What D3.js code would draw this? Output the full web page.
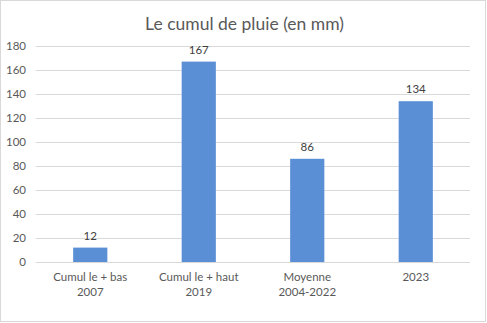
<!DOCTYPE html>
<html>
<head>
<meta charset="utf-8">
<script src="https://cdn.jsdelivr.net/npm/d3@7"></script>
<style>
  html, body { margin: 0; padding: 0; background: #fff; }
  svg { display: block; }
</style>
</head>
<body>
<svg id="chart" width="487" height="323"></svg>
<script>
// Rainfall totals (mm)
const categories = [
  ["Cumul le + bas", "2007"],
  ["Cumul le + haut", "2019"],
  ["Moyenne", "2004-2022"],
  ["2023"]
];
const values = [12, 167, 86, 134];
const yTicks = [0, 20, 40, 60, 80, 100, 120, 140, 160, 180];
const title = "Le cumul de pluie (en mm)";

const W = 487, H = 323;
const margin = { left: 36, right: 17, top: 46, bottom: 61 };
const font = "Lato, 'Open Sans', sans-serif";
const textColor = "#595959";
const gridColor = "#d9d9d9";
const barColor = "#5a8fd6";

const svg = d3.select("#chart");

// Chart frame
svg.append("rect")
  .attr("x", 0.5).attr("y", 0.5)
  .attr("width", W - 2).attr("height", H - 2)
  .attr("fill", "#fff").attr("stroke", gridColor);

const x = d3.scaleBand()
  .domain(d3.range(categories.length))
  .range([margin.left, W - margin.right])
  .padding(0);

const y = d3.scaleLinear()
  .domain([0, 180])
  .range([H - margin.bottom, margin.top]);

// Title
svg.append("text")
  .attr("x", W / 2 + 1).attr("y", 30)
  .attr("text-anchor", "middle")
  .attr("font-family", font)
  .attr("font-size", 17.5)
  .attr("fill", textColor)
  .text(title);

// Gridlines
svg.append("g").selectAll("line")
  .data(yTicks.filter(t => t > 0))
  .join("line")
  .attr("x1", margin.left).attr("x2", W - margin.right)
  .attr("y1", d => Math.round(y(d)) + 0.5).attr("y2", d => Math.round(y(d)) + 0.5)
  .attr("stroke", gridColor);

// Y axis labels
const yAxis = d3.axisLeft(y).tickValues(yTicks).tickSize(0).tickPadding(0);
const gy = svg.append("g")
  .attr("transform", `translate(${margin.left - 10},0)`)
  .call(yAxis);
gy.select(".domain").remove();
gy.selectAll("text")
  .attr("font-family", font)
  .attr("font-size", 11.5)
  .attr("fill", textColor);

// Bars
const barFrac = 0.315;
svg.append("g").selectAll("rect")
  .data(values)
  .join("rect")
  .attr("x", (d, i) => x(i) + x.bandwidth() * (1 - barFrac) / 2)
  .attr("width", x.bandwidth() * barFrac)
  .attr("y", d => y(d))
  .attr("height", d => y(0) - y(d))
  .attr("fill", barColor);

// Baseline
svg.append("line")
  .attr("x1", margin.left).attr("x2", W - margin.right)
  .attr("y1", Math.round(y(0)) + 0.5).attr("y2", Math.round(y(0)) + 0.5)
  .attr("stroke", gridColor);

// Value labels
svg.append("g").selectAll("text")
  .data(values)
  .join("text")
  .attr("x", (d, i) => x(i) + x.bandwidth() / 2)
  .attr("y", d => y(d) - 8)
  .attr("text-anchor", "middle")
  .attr("font-family", font)
  .attr("font-size", 11.5)
  .attr("fill", "#404040")
  .text(d => d);

// Category labels
const cat = svg.append("g").selectAll("text")
  .data(categories)
  .join("text")
  .attr("x", (d, i) => x(i) + x.bandwidth() / 2)
  .attr("y", H - margin.bottom + 19)
  .attr("text-anchor", "middle")
  .attr("font-family", font)
  .attr("font-size", 11.5)
  .attr("fill", textColor);
cat.selectAll("tspan")
  .data(d => d)
  .join("tspan")
  .attr("x", function() { return d3.select(this.parentNode).attr("x"); })
  .attr("dy", (d, i) => i === 0 ? 0 : 15)
  .text(d => d);
</script>
</body>
</html>
